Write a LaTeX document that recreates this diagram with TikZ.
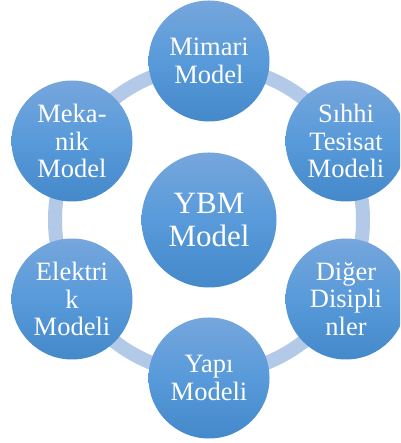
\documentclass[tikz,border=0pt]{standalone}
\usepackage{fontspec}
\setmainfont{Liberation Serif}
\definecolor{ringc}{RGB}{178,201,232}
\definecolor{topc}{RGB}{118,166,220}
\definecolor{midc}{RGB}{88,154,218}
\definecolor{botc}{RGB}{68,137,202}
\tikzset{
  ball/.style={circle, inner sep=0pt, align=center, text=white,
    top color=topc, bottom color=botc, middle color=midc,
    font=\fontsize{26.5}{27.5}\selectfont},
  outer/.style={ball, minimum size=121pt},
  hub/.style={ball, minimum size=135pt, font=\fontsize{31}{33}\selectfont},
  ring/.style={draw=ringc, line width=14pt}
}
\begin{document}
\begin{tikzpicture}[x=1pt,y=1pt]
\useasboundingbox (0,0) rectangle (400,443);
\clip (0,0) rectangle (400,443);
\coordinate (o) at (209,223);
\draw[ring] (o) circle (154);
\node[hub] (c) at (o) {YBM\\Model};
\node[outer] (mim) at (209,382) {Mimari\\Model};
\node[outer] (sih) at (346,302) {Sıhhi\\Tesisat\\Modeli};
\node[outer] (dig) at (346,144) {Diğer\\Disipli\\nler};
\node[outer] (yap) at (209,65) {Yapı\\Modeli};
\node[outer] (ele) at (72,144) {Elektri\\k\\Modeli};
\node[outer] (mek) at (72,302) {Meka-\\nik\\Model};
\end{tikzpicture}
\end{document}
